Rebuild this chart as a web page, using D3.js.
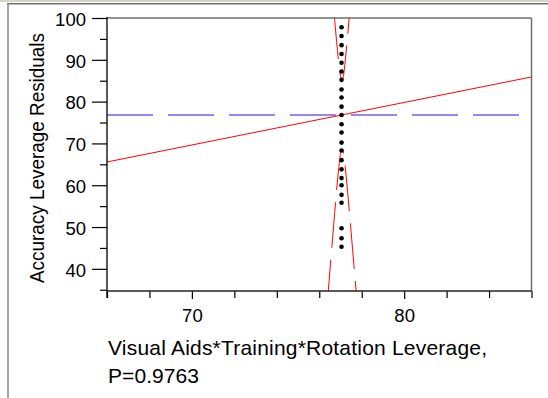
<!DOCTYPE html>
<html>
<head>
<meta charset="utf-8">
<script src="https://cdn.jsdelivr.net/npm/d3@7"></script>
<style>
  body { margin: 0; background: #fff; }
  svg text { font-family: "Liberation Sans", Arial, sans-serif; fill: #000; }
</style>
</head>
<body>
<svg id="chart" width="548" height="398"></svg>
<script>
// tick values
var xMajor = [70, 80];
var xMinor = [66, 68, 72, 74, 76, 78, 82, 84, 86];
var yMajor = [40, 50, 60, 70, 80, 90, 100];
var yMinor = [35, 45, 55, 65, 75, 85, 95];

// leverage residual points (all sit at the same leverage x)
var pointX = [77.05, 77.05, 77.05, 77.05, 77.05, 77.05, 77.05, 77.05, 77.05, 77.05, 77.05, 77.05,
              77.05, 77.05, 77.05, 77.05, 77.05, 77.05, 77.05, 77.05, 77.05, 77.05, 77.05, 77.05];
var pointY = [97.8, 95.7, 93.5, 91.4, 89.3, 87.2, 85.2, 82.9, 81.0, 78.8, 76.8, 74.6,
              72.6, 70.2, 68.3, 66.0, 63.8, 61.7, 60.0, 57.7, 55.8, 49.7, 47.3, 45.3];

// mean line, fit line
var meanY = 76.8;
var fitX = [66, 86];
var fitY = [65.56, 85.9];

// confidence curves
var upperX = [76.70, 76.82, 76.92, 77.00, 77.07, 77.14, 77.22, 77.32, 77.44];
var upperY = [101.2, 94.3, 89.2, 86.1, 85.0, 86.2, 89.5, 94.9, 101.9];
var lowerX = [76.37, 76.57, 76.77, 76.92, 77.01, 77.07, 77.13, 77.22, 77.37, 77.57, 77.77];
var lowerY = [31.2, 43.7, 55.9, 64.2, 67.8, 68.6, 67.9, 64.5, 56.5, 44.7, 32.6];

var svg = d3.select("#chart");
var pL = 107, pR = 531.5, pT = 18, pB = 291;

var x = d3.scaleLinear().domain([66, 86]).range([pL, pR]);
var y = d3.scaleLinear().domain([34.7, 100]).range([pB, pT]);

// window border bits
svg.append("rect").attr("x", 0).attr("y", 0).attr("width", 548).attr("height", 2).attr("fill", "#d6d3ca");
svg.append("line").attr("x1", 7).attr("x2", 548).attr("y1", 3.8).attr("y2", 3.8)
  .attr("stroke", "#707070").attr("stroke-width", 1.5);
svg.append("line").attr("x1", 8).attr("x2", 8).attr("y1", 3).attr("y2", 398)
  .attr("stroke", "#8a8a8a").attr("stroke-width", 1.5);

svg.append("clipPath").attr("id", "clip").append("rect")
  .attr("x", pL).attr("y", pT).attr("width", pR - pL).attr("height", pB - pT);

// frame
svg.append("line").attr("x1", pL).attr("x2", pR).attr("y1", pT).attr("y2", pT)
  .attr("stroke", "#6e6e6e").attr("stroke-width", 1.5);
svg.append("line").attr("x1", pR).attr("x2", pR).attr("y1", pT).attr("y2", pB)
  .attr("stroke", "#6e6e6e").attr("stroke-width", 1.5);

var plot = svg.append("g").attr("clip-path", "url(#clip)");

// mean line
plot.append("line")
  .attr("x1", pL).attr("x2", pR)
  .attr("y1", y(meanY)).attr("y2", y(meanY))
  .attr("stroke", "#9588f5").attr("stroke-width", 2)
  .attr("stroke-dasharray", "46,15");

// fit line
plot.append("line")
  .attr("x1", x(fitX[0])).attr("x2", x(fitX[1]))
  .attr("y1", y(fitY[0])).attr("y2", y(fitY[1]))
  .attr("stroke", "#ff0000").attr("stroke-width", 1);

// confidence curves
var curve = d3.line().x(d => x(d[0])).y(d => y(d[1])).curve(d3.curveMonotoneX);
plot.append("path").attr("d", curve(d3.zip(upperX, upperY)))
  .attr("fill", "none").attr("stroke", "#ff0000").attr("stroke-width", 1)
  .attr("stroke-dasharray", "46,12");
plot.append("path").attr("d", curve(d3.zip(lowerX, lowerY)))
  .attr("fill", "none").attr("stroke", "#ff0000").attr("stroke-width", 1)
  .attr("stroke-dasharray", "46,12");

// points
plot.selectAll("circle")
  .data(d3.zip(pointX, pointY))
  .enter()
  .append("circle")
  .attr("cx", d => x(d[0]))
  .attr("cy", d => y(d[1]))
  .attr("r", 2.3)
  .attr("fill", "#000");

// axes
svg.append("g").attr("class", "yax").attr("transform", "translate(" + pL + ",0)")
  .call(d3.axisLeft(y).tickValues(yMajor).tickSize(15).tickSizeOuter(0).tickPadding(6).tickFormat(d3.format("d")));
svg.append("g").attr("transform", "translate(" + pL + ",0)")
  .call(d3.axisLeft(y).tickValues(yMinor).tickSize(7).tickSizeOuter(0).tickFormat(""));
svg.append("g").attr("transform", "translate(0," + pB + ")")
  .call(d3.axisBottom(x).tickValues(xMajor).tickSize(8).tickSizeOuter(0).tickPadding(11).tickFormat(d3.format("d")));
svg.append("g").attr("transform", "translate(0," + pB + ")")
  .call(d3.axisBottom(x).tickValues(xMinor).tickSize(7).tickSizeOuter(0).tickFormat(""));

svg.selectAll(".domain").remove();
svg.selectAll(".tick line").attr("stroke", "#000").attr("stroke-width", 1.2);
svg.selectAll(".tick text")
  .style("font-size", "17.5px")
  .attr("fill", "#000")
  .attr("textLength", function () { return this.textContent.length * 10.3; })
  .attr("lengthAdjust", "spacingAndGlyphs");
svg.selectAll(".yax .tick text").attr("dy", "0.42em");

svg.append("line").attr("x1", pL).attr("x2", pL).attr("y1", pT - 1).attr("y2", pB + 7)
  .attr("stroke", "#000").attr("stroke-width", 1.3);
svg.append("line").attr("x1", pL).attr("x2", pR).attr("y1", pB).attr("y2", pB)
  .attr("stroke", "#222").attr("stroke-width", 1.3);

// titles
svg.append("text")
  .attr("transform", "translate(44,158) rotate(-90)")
  .attr("text-anchor", "middle")
  .style("font-size", "20px")
  .attr("textLength", 250)
  .attr("lengthAdjust", "spacingAndGlyphs")
  .text("Accuracy Leverage Residuals");

svg.append("text")
  .attr("x", 108).attr("y", 355)
  .style("font-size", "21px")
  .attr("textLength", 379)
  .attr("lengthAdjust", "spacing")
  .text("Visual Aids*Training*Rotation Leverage,");
svg.append("text")
  .attr("x", 108).attr("y", 383)
  .style("font-size", "21px")
  .attr("textLength", 91)
  .attr("lengthAdjust", "spacing")
  .text("P=0.9763");
</script>
</body>
</html>
